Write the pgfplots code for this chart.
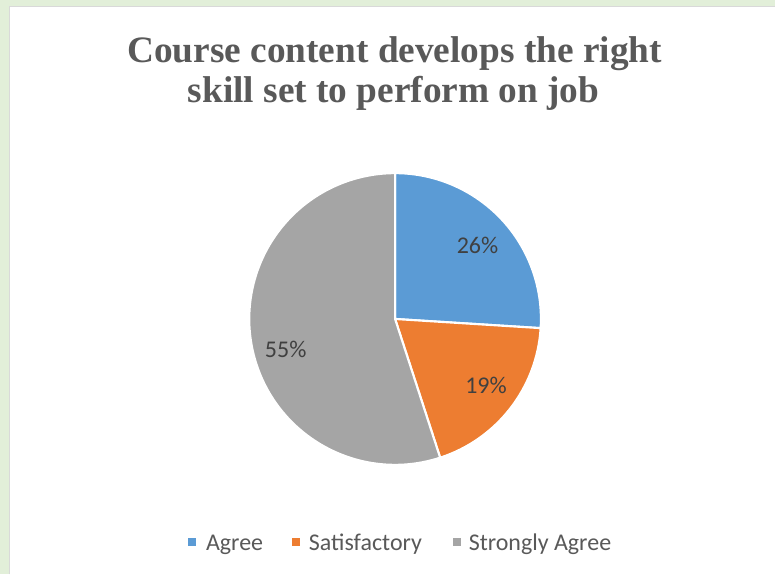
\documentclass[border=0pt]{standalone}
\usepackage{pgfplots}
\usepackage{pgfplotstable}
\pgfplotsset{compat=1.18}
\usepackage{fontspec}
\setmainfont{Liberation Serif}
\newfontfamily\carlito{Carlito}
\definecolor{bgG}{HTML}{E2EFD9}
\definecolor{bordG}{HTML}{D9D9D9}
\definecolor{cAgree}{HTML}{5B9BD5}
\definecolor{cSat}{HTML}{ED7D31}
\definecolor{cStr}{HTML}{A5A5A5}
\definecolor{titleC}{HTML}{595959}
\definecolor{lblC}{HTML}{404040}
\pgfplotstableread{
label value
Agree 26
Satisfactory 19
StronglyAgree 55
}\piedata
\begin{document}
\begin{tikzpicture}
\pgfplotstablegetelem{0}{value}\of\piedata \let\vA\pgfplotsretval
\pgfplotstablegetelem{1}{value}\of\piedata \let\vB\pgfplotsretval
\pgfplotstablegetelem{2}{value}\of\piedata \let\vC\pgfplotsretval
\pgfmathsetmacro\aA{90}
\pgfmathsetmacro\aB{90-3.6*\vA}
\pgfmathsetmacro\aC{\aB-3.6*\vB}
\pgfmathsetmacro\aD{\aC-3.6*\vC}
\def\R{109.5pt}
\begin{axis}[scale only axis, width=582pt, height=431.25pt,
  xmin=0, xmax=776, ymin=0, ymax=575, hide axis, clip=false]
\fill[bgG] (axis cs:0,0) rectangle (axis cs:776,575);
\fill[white] (axis cs:9.5,0) rectangle (axis cs:776,568.5);
\draw[bordG, line width=1.2pt] (axis cs:9.5,0) -- (axis cs:9.5,568.5) -- (axis cs:776,568.5);
% title
\node[font=\fontsize{28}{32}\selectfont\bfseries, text=titleC, anchor=base, inner sep=0pt] at (axis cs:395,575-63) {Course content develops the right};
\node[font=\fontsize{28}{32}\selectfont\bfseries, text=titleC, anchor=base, inner sep=0pt] at (axis cs:394,575-103) {skill set to perform on job};
% pie
\filldraw[fill=cAgree, draw=white, line width=1.6pt, line join=round] (axis cs:395.5,255.7) -- +(\aA:\R) arc[start angle=\aA, end angle=\aB, radius=\R] -- cycle;
\filldraw[fill=cSat, draw=white, line width=1.6pt, line join=round] (axis cs:395.5,255.7) -- +(\aB:\R) arc[start angle=\aB, end angle=\aC, radius=\R] -- cycle;
\filldraw[fill=cStr, draw=white, line width=1.6pt, line join=round] (axis cs:395.5,255.7) -- +(\aC:\R) arc[start angle=\aC, end angle=\aD, radius=\R] -- cycle;
% data labels
\node[font=\carlito\fontsize{18}{20}\selectfont, text=lblC] at (axis cs:478,575-246) {\vA\%};
\node[font=\carlito\fontsize{18}{20}\selectfont, text=lblC] at (axis cs:486.5,575-386) {\vB\%};
\node[font=\carlito\fontsize{18}{20}\selectfont, text=lblC] at (axis cs:286,575-350) {\vC\%};
% legend
\fill[cAgree] (axis cs:188,575-547) rectangle (axis cs:196,575-539);
\fill[cSat] (axis cs:292.5,575-547) rectangle (axis cs:300.5,575-539);
\fill[cStr] (axis cs:453,575-547) rectangle (axis cs:461,575-539);
\node[font=\carlito\fontsize{18}{20}\selectfont, text=titleC, anchor=base west, inner sep=0pt] at (axis cs:206,575-551) {Agree};
\node[font=\carlito\fontsize{18}{20}\selectfont, text=titleC, anchor=base west, inner sep=0pt] at (axis cs:309,575-551) {Satisfactory};
\node[font=\carlito\fontsize{18}{20}\selectfont, text=titleC, anchor=base west, inner sep=0pt] at (axis cs:469,575-551) {Strongly Agree};
\end{axis}
\end{tikzpicture}
\end{document}
